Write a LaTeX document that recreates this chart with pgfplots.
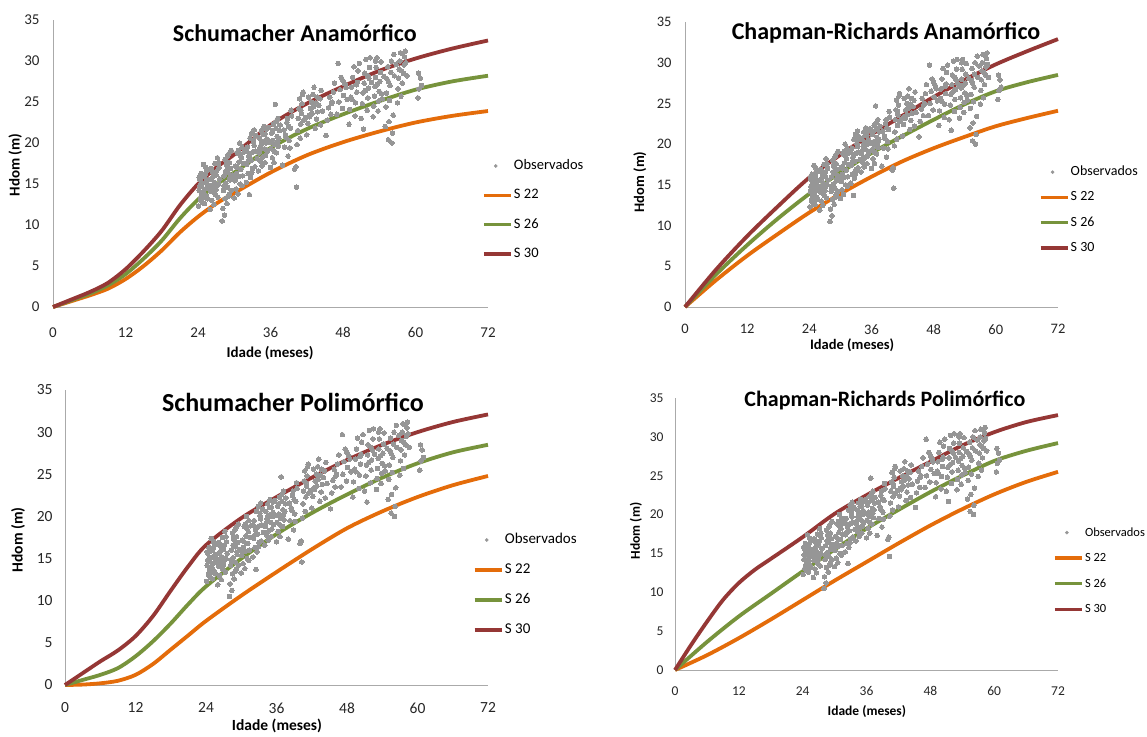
\documentclass[border=0pt]{standalone}
\usepackage{fontspec}
\setmainfont{Carlito}
\usepackage{pgfplots}
\usepackage{pgfplotstable}
\pgfplotsset{compat=1.18}

\definecolor{obsgray}{RGB}{150,150,150}
\definecolor{sA}{RGB}{228,108,10}
\definecolor{sB}{RGB}{119,147,60}
\definecolor{sC}{RGB}{149,55,53}
\definecolor{axl}{RGB}{170,170,170}

% observed dominant heights (age in months, Hdom in m)
\pgfplotstableread{
x y
24.1 12.3
24.2 14.2
24.3 15.6
24.4 13.1
24.5 16.3
24.6 14.7
24.7 12.8
24.8 15.1
24.9 17.4
25.0 13.9
25.1 16.0
25.2 14.4
25.3 15.3
25.4 13.5
25.5 16.6
24.5 15.0
24.9 14.0
25.3 17.0
24.2 15.8
25.6 14.9
25.7 15.5
24.8 13.3
25.1 12.6
25.5 16.8
24.3 14.8
24.6 13.6
24.9 15.9
25.2 16.2
25.6 13.2
25.8 14.6
26.0 11.9
26.1 14.1
26.2 15.6
26.3 13.0
26.4 16.5
26.5 14.5
26.6 12.5
26.7 15.2
26.8 17.5
26.9 13.7
27.0 16.1
27.1 14.8
27.2 18.2
27.3 13.4
27.4 15.0
27.5 17.0
26.5 15.9
27.0 14.3
26.2 16.9
26.4 14.9
26.7 13.9
27.1 16.6
27.4 17.6
27.6 15.6
28.0 10.5
28.1 12.0
28.2 14.2
28.3 16.0
28.4 11.2
28.5 13.2
28.6 15.1
28.7 17.4
28.8 12.6
28.9 14.6
29.0 16.4
29.1 18.7
29.2 13.8
29.3 15.5
29.4 16.9
29.5 19.1
28.5 18.0
29.0 13.5
29.3 15.8
28.8 17.2
28.3 14.8
28.6 16.6
28.9 18.4
29.2 17.6
29.5 14.2
29.7 16.1
30.0 13.3
30.1 15.4
30.2 17.2
30.3 14.4
30.4 16.3
30.5 18.8
30.6 13.8
30.7 15.9
30.8 17.7
30.9 20.0
31.0 15.0
31.1 16.8
31.2 18.2
31.3 19.5
31.4 16.0
31.5 17.5
30.2 15.8
30.5 17.0
30.7 19.1
31.0 18.5
31.3 14.8
31.6 18.9
32.0 15.2
32.1 17.4
32.2 19.5
32.3 16.3
32.4 18.4
32.5 13.7
32.6 20.6
32.7 15.8
32.8 17.9
32.9 21.2
33.0 16.9
33.1 18.9
33.2 20.1
33.3 21.6
33.4 17.1
33.5 19.0
33.2 20.4
32.0 19.0
32.3 17.8
32.6 18.7
32.9 16.4
33.3 19.7
33.6 20.9
33.8 18.1
34.0 16.6
34.1 18.8
34.2 20.6
34.3 17.8
34.4 19.7
34.5 21.5
34.6 17.2
34.7 18.3
34.8 20.2
34.9 22.0
35.0 19.3
35.1 21.1
35.2 18.5
35.3 20.0
35.4 21.7
35.5 19.0
34.2 19.2
34.5 20.0
34.8 21.1
35.1 17.6
35.4 20.5
35.7 21.9
36.0 17.0
36.1 19.3
36.2 21.2
36.3 18.2
36.4 20.3
36.5 22.3
36.6 17.6
36.7 19.8
36.8 24.7
36.9 21.8
37.0 18.8
37.1 20.8
37.2 23.0
37.3 19.6
37.4 20.6
37.5 21.5
36.0 20.1
36.3 21.5
36.6 19.0
36.9 22.6
37.2 20.2
37.6 22.2
38.0 17.3
38.3 19.5
38.5 21.0
38.7 22.5
38.9 18.4
39.1 20.3
39.3 21.8
39.4 24.0
39.5 23.3
38.6 20.7
39.0 22.0
38.2 21.6
38.8 23.0
39.2 19.4
40.3 14.6
40.0 16.8
40.2 17.1
40.4 19.8
40.5 21.5
40.6 23.0
40.7 24.2
40.8 25.4
40.9 20.6
41.0 22.3
41.1 23.6
41.2 24.8
41.3 25.9
41.4 26.2
41.5 22.8
41.0 24.0
41.8 23.1
42.0 21.0
42.2 22.4
42.4 23.4
42.6 24.2
42.8 25.0
43.0 25.9
43.2 26.8
43.4 21.8
43.6 22.9
43.8 23.8
44.0 24.6
44.2 25.4
44.4 26.4
42.5 23.2
43.1 24.4
43.7 25.6
44.3 22.2
42.9 23.6
42.3 25.6
43.5 24.9
44.6 23.9
45.2 20.9
45.4 22.8
45.6 24.3
45.8 25.6
46.0 23.5
46.2 25.0
46.4 26.2
46.1 24.8
46.6 27.3
47.0 23.5
47.2 29.7
47.3 25.0
47.5 26.5
47.7 28.0
47.9 24.2
48.1 25.8
48.3 27.2
48.5 26.8
48.0 27.6
48.7 25.3
49.0 22.3
49.1 24.1
49.3 25.6
49.4 26.8
49.6 28.0
49.8 29.3
50.0 23.3
50.1 24.9
50.3 26.2
50.4 27.4
50.5 28.8
49.5 25.3
50.2 27.1
50.7 29.7
51.4 21.7
51.0 23.0
51.2 24.8
51.3 26.1
51.5 27.3
51.6 28.5
51.8 30.2
52.0 24.0
52.1 25.5
52.2 26.7
52.3 27.9
52.4 29.2
52.5 30.4
51.7 26.4
52.1 28.2
52.7 27.4
53.0 23.2
53.1 24.5
53.2 25.7
53.3 26.9
53.4 28.0
53.5 29.2
53.6 30.4
53.8 23.9
53.9 25.1
54.0 26.3
54.1 27.5
54.2 28.6
54.3 29.9
54.4 26.0
53.7 27.2
54.5 25.4
53.4 30.0
54.8 28.1
55.0 22.0
55.1 24.4
55.2 26.1
55.3 27.8
55.4 29.3
55.5 20.4
55.6 22.6
55.7 25.2
55.8 27.0
55.9 28.6
56.0 30.0
56.1 20.0
56.2 21.2
56.3 23.4
56.4 30.8
56.5 28.2
55.5 27.5
56.8 29.6
57.0 24.9
57.1 26.6
57.2 27.9
57.3 29.0
57.4 30.0
57.5 31.0
57.6 25.7
57.8 27.3
58.0 28.5
58.1 29.5
58.2 30.5
58.3 31.2
57.7 28.8
58.4 29.8
57.9 30.9
58.6 28.2
60.4 25.5
60.6 26.6
60.8 27.9
61.0 27.0
60.5 28.5
}\obsdata

\pgfplotsset{
  hd/.style={
    scale only axis, clip=false,
    xmin=0, xmax=72, ymin=0, ymax=35,
    xtick={0,12,...,72}, ytick={0,5,...,35},
    axis lines*=left, axis line style={axl, line width=0.8pt},
    major tick length=0pt,
    /pgf/number format/assume math mode=true,
    tick label style={black!85},
    title style={anchor=center, font=\bfseries},
    xlabel style={anchor=center, font=\bfseries},
    ylabel style={anchor=center, font=\bfseries},
    legend cell align=left,
    legend style={draw=none, fill=none, anchor=west,
      nodes={inner xsep=1.5pt, inner ysep=0pt, text height=10pt, text depth=3pt}},
    legend image code/.code={\draw[##1, line width=3.4pt] (0pt,0pt) -- (27pt,0pt);},
    xlabel={Idade (meses)}, ylabel={Hdom (m)},
  },
  obsplot/.style={only marks, mark=*, mark size=2.3pt, color=obsgray,
    mark options={draw=obsgray, fill=obsgray, line width=0pt},
    legend image code/.code={\fill[obsgray] (12pt,0pt) circle (1.6pt);}},
  crv/.style={line width=3.8pt, smooth, no markers},
}

\begin{document}
\begin{tikzpicture}
\path[use as bounding box] (0pt,0pt) rectangle (1147pt,736pt);

% top left
\begin{axis}[hd, at={(53pt,429pt)}, anchor=south west, width=435pt, height=287pt,
  title={Schumacher Anamórfico},
  title style={at={(axis description cs:0.556,0.934)}, font=\fontsize{24}{29}\selectfont\bfseries},
  xlabel style={at={(axis description cs:0.499,-0.160)}, font=\fontsize{15}{18}\selectfont\bfseries},
  ylabel style={at={(axis description cs:-0.087,0.495)}, font=\fontsize{15}{18}\selectfont\bfseries},
  tick label style={font=\fontsize{15}{18}\selectfont},
  yticklabel style={xshift=-10pt}, xticklabel style={yshift=-17pt},
  legend style={at={(axis description cs:0.979,0.338)}, font=\fontsize{14.5}{17}\selectfont, row sep=16.3pt}]
\addplot[obsplot] table[x=x, y=y]{\obsdata};
\addlegendentry{Observados}
\addplot[crv, sA] coordinates {(0,0) (3,0.7) (6,1.4) (9,2.2) (12,3.4) (15,5.0) (18,6.9) (21,9.1) (24,11.0) (27,12.6) (30,13.9) (36,16.4) (42,18.5) (48,20.1) (54,21.4) (60,22.5) (66,23.3) (72,23.9)};
\addlegendentry{S 22}
\addplot[crv, sB] coordinates {(0,0) (3,0.8) (6,1.6) (9,2.6) (12,4.0) (15,5.9) (18,8.1) (21,10.8) (24,13.1) (27,14.9) (30,16.4) (36,19.4) (42,21.7) (48,23.5) (54,25.1) (60,26.5) (66,27.5) (72,28.2)};
\addlegendentry{S 26}
\addplot[crv, sC] coordinates {(0,0) (3,0.9) (6,1.8) (9,2.9) (12,4.6) (15,6.8) (18,9.3) (21,12.4) (24,15.0) (27,17.0) (30,18.6) (36,22.2) (42,24.8) (48,26.9) (54,28.8) (60,30.3) (66,31.5) (72,32.5)};
\addlegendentry{S 30}
\end{axis}

% top right
\begin{axis}[hd, at={(685pt,429pt)}, anchor=south west, width=373pt, height=285pt,
  title={Chapman-Richards Anamórfico},
  title style={at={(axis description cs:0.539,0.940)}, font=\fontsize{24}{29}\selectfont\bfseries},
  xlabel style={at={(axis description cs:0.448,-0.133)}, font=\fontsize{14.5}{17}\selectfont\bfseries},
  ylabel style={at={(axis description cs:-0.121,0.439)}, font=\fontsize{14.5}{17}\selectfont\bfseries},
  tick label style={font=\fontsize{14.5}{17}\selectfont},
  yticklabel style={xshift=-10pt}, xticklabel style={yshift=-14pt},
  legend style={at={(axis description cs:0.940,0.340)}, font=\fontsize{14}{16}\selectfont, row sep=12.3pt}]
\addplot[obsplot] table[x=x, y=y]{\obsdata};
\addlegendentry{Observados}
\addplot[crv, sA] coordinates {(0,0) (6,3.3) (12,6.3) (18,9.0) (24,11.6) (30,13.9) (36,16.0) (42,17.9) (48,19.5) (54,20.9) (60,22.2) (66,23.2) (72,24.1)};
\addlegendentry{S 22}
\addplot[crv, sB] coordinates {(0,0) (6,4.0) (12,7.6) (18,10.9) (24,13.9) (30,16.5) (36,18.9) (42,21.0) (48,23.0) (54,24.9) (60,26.5) (66,27.6) (72,28.5)};
\addlegendentry{S 26}
\addplot[crv, sC] coordinates {(0,0) (6,4.6) (12,8.7) (18,12.4) (24,15.9) (30,18.7) (36,21.2) (42,23.5) (48,25.8) (54,27.9) (60,29.8) (66,31.4) (72,32.9)};
\addlegendentry{S 30}
\end{axis}

% bottom left
\begin{axis}[hd, at={(65pt,51pt)}, anchor=south west, width=423pt, height=295pt,
  title={Schumacher Polimórfico},
  title style={at={(axis description cs:0.539,0.939)}, font=\fontsize{26}{31}\selectfont\bfseries},
  xlabel style={at={(axis description cs:0.501,-0.139)}, font=\fontsize{15.5}{18}\selectfont\bfseries},
  ylabel style={at={(axis description cs:-0.111,0.492)}, font=\fontsize{15.5}{18}\selectfont\bfseries},
  tick label style={font=\fontsize{15.5}{18}\selectfont},
  yticklabel style={xshift=-9pt}, xticklabel style={yshift=-14pt},
  legend style={at={(axis description cs:0.957,0.339)}, font=\fontsize{15}{18}\selectfont, row sep=17pt}]
\addplot[obsplot] table[x=x, y=y]{\obsdata};
\addlegendentry{Observados}
\addplot[crv, sA] coordinates {(0,0) (3,0.05) (6,0.2) (9,0.5) (12,1.2) (15,2.5) (18,4.2) (21,5.9) (24,7.6) (30,10.6) (36,13.4) (42,16.1) (48,18.6) (54,20.6) (60,22.3) (66,23.7) (72,24.8)};
\addlegendentry{S 22}
\addplot[crv, sB] coordinates {(0,0) (3,0.6) (6,1.2) (9,2.0) (12,3.4) (15,5.2) (18,7.3) (21,9.6) (24,11.7) (30,15.0) (36,17.9) (42,20.4) (48,22.6) (54,24.6) (60,26.3) (66,27.6) (72,28.5)};
\addlegendentry{S 26}
\addplot[crv, sC] coordinates {(0,0) (3,1.4) (6,2.8) (9,4.1) (12,5.8) (15,8.2) (18,11.2) (21,14.1) (24,16.6) (30,19.8) (36,22.3) (42,24.6) (48,26.7) (54,28.5) (60,30.0) (66,31.2) (72,32.1)};
\addlegendentry{S 30}
\end{axis}

% bottom right
\begin{axis}[hd, at={(675pt,66pt)}, anchor=south west, width=383pt, height=272pt,
  title={Chapman-Richards Polimórfico},
  title style={at={(axis description cs:0.548,0.970)}, font=\fontsize{22}{26}\selectfont\bfseries},
  xlabel style={at={(axis description cs:0.501,-0.154)}, font=\fontsize{13.5}{16}\selectfont\bfseries},
  ylabel style={at={(axis description cs:-0.102,0.511)}, font=\fontsize{13.5}{16}\selectfont\bfseries},
  tick label style={font=\fontsize{13.5}{16}\selectfont},
  yticklabel style={xshift=-8pt}, xticklabel style={yshift=-13pt},
  legend style={at={(axis description cs:0.979,0.364)}, font=\fontsize{12.5}{15}\selectfont, row sep=12.6pt}]
\addplot[obsplot] table[x=x, y=y]{\obsdata};
\addlegendentry{Observados}
\addplot[crv, sA] coordinates {(0,0) (6,1.9) (12,4.1) (18,6.5) (24,9.0) (30,11.5) (36,13.9) (42,16.3) (48,18.6) (54,20.7) (60,22.6) (66,24.2) (72,25.5)};
\addlegendentry{S 22}
\addplot[crv, sB] coordinates {(0,0) (6,3.6) (12,6.9) (18,9.8) (24,12.7) (30,15.5) (36,18.2) (42,20.6) (48,22.9) (54,25.0) (60,26.9) (66,28.2) (72,29.2)};
\addlegendentry{S 26}
\addplot[crv, sC] coordinates {(0,0) (3,3.2) (6,6.2) (9,9.0) (12,11.2) (15,12.9) (18,14.3) (24,17.1) (30,20.1) (36,22.5) (42,24.7) (48,26.8) (54,28.9) (60,30.6) (66,31.9) (72,32.8)};
\addlegendentry{S 30}
\end{axis}
\end{tikzpicture}
\end{document}
